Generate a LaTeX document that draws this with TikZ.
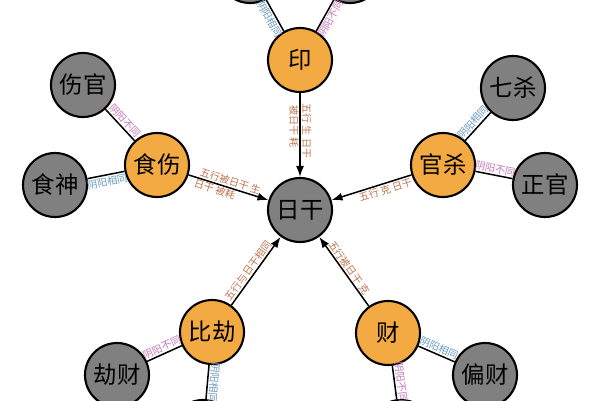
\documentclass[tikz,border=0pt]{standalone}
\usepackage{fontspec}
\setmainfont{Noto Sans CJK SC}
\usetikzlibrary{arrows.meta}
\definecolor{shenorange}{HTML}{F4AA42}
\definecolor{shengrey}{HTML}{808080}
\definecolor{wxbrown}{HTML}{C0744E}
\definecolor{yypink}{HTML}{C47AB8}
\definecolor{yyblue}{HTML}{6A9AC0}
\begin{document}
\begin{tikzpicture}
[x=0.03cm,y=-0.03cm,%
  nodedecorate/.style={shape=circle,draw,line width=1.8pt,minimum size=1.92cm,inner sep=0pt,font=\fontsize{20}{22}\selectfont},%
  orangedecorate/.style={nodedecorate,fill=shenorange},%
  greydecorate/.style={nodedecorate,fill=shengrey},%
  arrowdecorate/.style={-{Latex[length=3.3mm,width=2.4mm]},line width=1.3pt},%
  linedecorate/.style={-,line width=1.3pt},%
  labeldecorate/.style={sloped,inner sep=1pt,font=\fontsize{8.6}{9}\selectfont}]
\useasboundingbox[fill=white] (0,0) rectangle (600,400);
%% day master and the outer gods
\foreach \nodename/\x/\y/\txt in {rigan/300/210/日干, shangguan/83/85/伤官,
  shishen/55/185/食神, qisha/513/88/七杀, zhengguan/545/185/正官,
  jiecai/117/375/劫财, piancai/485/375/偏财, pianyin/250/-29/{},
  zhengyin/350/-29/{}, bijian/203/432/{}, zhengcai/401/432/{}} {
  \node (\nodename) at (\x,\y) [greydecorate] {\txt};
}
%% the five groups
\foreach \nodename/\x/\y/\txt in {yin/300/60/印, shishang/157/165/食伤,
  guansha/443/165/官杀, bijie/212/332/比劫, cai/388/333/财} {
  \node (\nodename) at (\x,\y) [orangedecorate] {\txt};
}
%% arrows into the day master
\path
\foreach \startnode/\endnode/\txt/\side/\where in {yin/rigan/五行 生 日干/above/.45,
  shishang/rigan/五行被日干 生/above/.5, guansha/rigan/五行 克 日干/below/.35,
  bijie/rigan/五行与日干相同/above/.45, cai/rigan/五行被日干 克/above/.5} {
  (\startnode) edge[arrowdecorate] node[labeldecorate,\side,pos=\where,text=wxbrown] {\txt} (\endnode)
};
\path (yin) -- (rigan) node[labeldecorate,below,pos=.4,text=wxbrown] {被日干 耗}
  (shishang) -- (rigan) node[labeldecorate,below,pos=.35,text=wxbrown] {日干 被耗};
%% yin yang lines
\path
\foreach \startnode/\endnode/\txt/\side/\col in {shangguan/shishang/阴阳不同/above/yypink,
  shishen/shishang/阴阳相同/below/yyblue, guansha/qisha/阴阳相同/above/yyblue,
  guansha/zhengguan/阴阳不同/above/yypink, jiecai/bijie/阴阳不同/above/yypink,
  cai/piancai/阴阳相同/above/yyblue, cai/zhengcai/阴阳不同/above/yypink,
  yin/pianyin/阴阳相同/below/yyblue, yin/zhengyin/阴阳不同/below/yypink} {
  (\startnode) edge[linedecorate] node[labeldecorate,\side,text=\col] {\txt} (\endnode)
};
\path (bijie) edge[linedecorate] node[labeldecorate,allow upside down,above,text=yyblue] {阴阳相同} (bijian);
\end{tikzpicture}
\end{document}
